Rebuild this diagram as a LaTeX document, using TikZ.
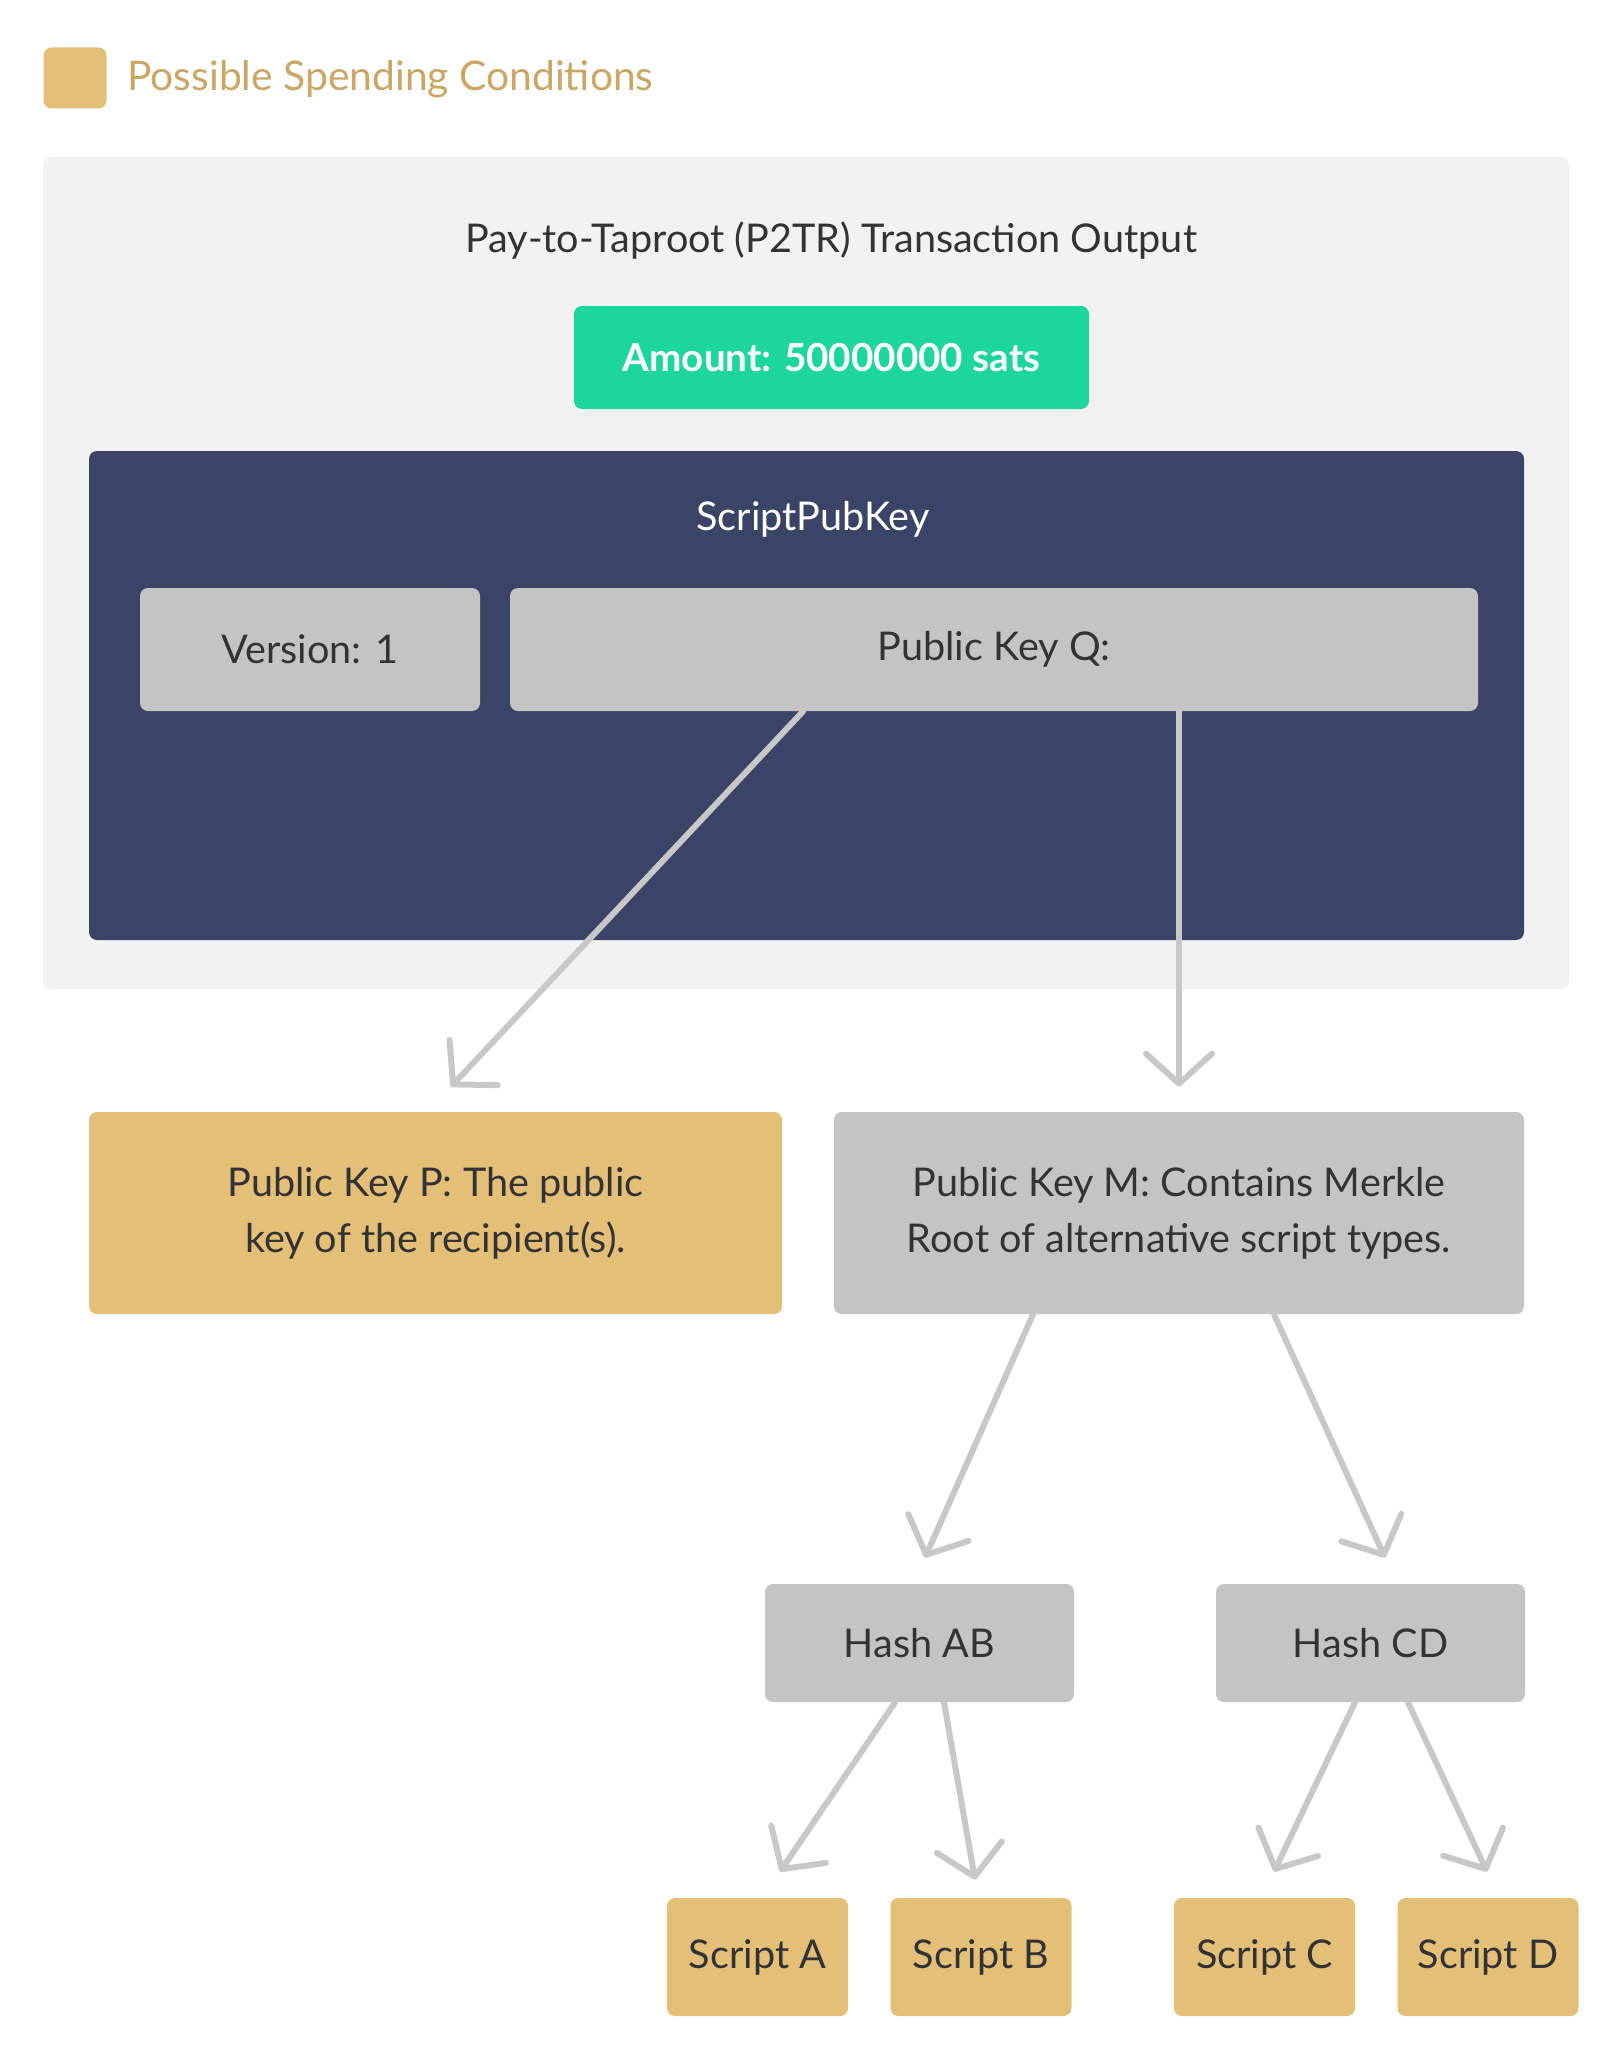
\documentclass[tikz,border=0pt]{standalone}
\usepackage{fontspec}
\setmainfont{Lato}
\usetikzlibrary{arrows.meta}
\definecolor{gold}{HTML}{E3BF78}
\definecolor{goldtext}{HTML}{C9A764}
\definecolor{greenbox}{HTML}{1DD69B}
\definecolor{navy}{HTML}{3A4466}
\definecolor{graybox}{HTML}{C4C4C4}
\definecolor{panel}{HTML}{F2F2F2}
\definecolor{txt}{HTML}{333333}
\definecolor{arrowgray}{HTML}{C8C8C8}
\tikzset{
  base/.style={rounded corners=4pt, inner sep=0pt, align=center, font=\fontsize{19.8}{28}\selectfont},
  graynode/.style={base, fill=graybox, text=txt},
  goldnode/.style={base, fill=gold, text=txt},
  arr/.style={draw=arrowgray, line width=3pt, line cap=round,
    -{Straight Barb[length=15pt,width=33pt,line width=3pt,round]}},
}
\begin{document}
\begin{tikzpicture}[x=0.5pt,y=-0.5pt]
\useasboundingbox[fill=white] (0,0) rectangle (1600,2049);
% legend
\node[base, fill=gold, minimum width=31.5pt, minimum height=30.5pt] (leg) at (75,78) {};
\node[anchor=west, text=goldtext, font=\fontsize{20.4}{24}\selectfont, inner sep=0pt] (legt) at (127,79) {Possible Spending Conditions};
% outer panel
\node[base, fill=panel, minimum width=763pt, minimum height=416pt] (outer) at (806,573) {};
\node[text=txt, font=\fontsize{19.8}{24}\selectfont, inner sep=0pt] (title) at (831,241) {Pay-to-Taproot (P2TR) Transaction Output};
\node[base, fill=greenbox, text=white, font=\fontsize{19.3}{24}\selectfont\bfseries, minimum width=257.5pt, minimum height=51.5pt] (amount) at (831.5,357.5) {Amount: 50000000 sats};
% scriptpubkey
\node[base, fill=navy, minimum width=717.5pt, minimum height=244.5pt] (spk) at (806.5,695.5) {};
\node[text=white, font=\fontsize{19.8}{24}\selectfont, inner sep=0pt] (spkt) at (813,519) {ScriptPubKey};
\node[graynode, minimum width=170pt, minimum height=61.5pt] (ver) at (310,649.5) {Version: 1};
\node[graynode, minimum width=484pt, minimum height=61.5pt] (pkq) at (994,649.5) {Public Key Q:};
% second level
\node[goldnode, minimum width=346.5pt, minimum height=101pt] (pkp) at (435.5,1213) {Public Key P: The public\\key of the recipient(s).};
\node[graynode, minimum width=345pt, minimum height=101pt] (pkm) at (1179,1213) {Public Key M: Contains Merkle\\Root of alternative script types.};
% hashes
\node[graynode, minimum width=154.5pt, minimum height=59pt] (hab) at (919.5,1643) {Hash AB};
\node[graynode, minimum width=154.5pt, minimum height=59pt] (hcd) at (1370.5,1643) {Hash CD};
% scripts
\node[goldnode, minimum width=90.5pt, minimum height=59pt] (sa) at (757.5,1957) {Script A};
\node[goldnode, minimum width=90.5pt, minimum height=59pt] (sb) at (981,1957) {Script B};
\node[goldnode, minimum width=90.5pt, minimum height=59pt] (sc) at (1264.5,1957) {Script C};
\node[goldnode, minimum width=90.5pt, minimum height=59pt] (sd) at (1488,1957) {Script D};
% arrows
\draw[arr] ([xshift=-95.5pt]pkq.south) -- ([xshift=7.75pt,yshift=12.5pt]pkp.north);
\draw[arr] ([xshift=92.5pt]pkq.south) -- ([yshift=12.5pt]pkm.north);
\draw[arr] ([xshift=-73pt]pkm.south) -- ([xshift=2.75pt,yshift=13pt]hab.north);
\draw[arr] ([xshift=47.5pt]pkm.south) -- ([xshift=7.25pt,yshift=13pt]hcd.north);
\draw[arr] ([xshift=-12.25pt]hab.south) -- ([xshift=11.25pt,yshift=13pt]sa.north);
\draw[arr] ([xshift=12.25pt]hab.south) -- ([xshift=-3pt,yshift=9pt]sb.north);
\draw[arr] ([xshift=-7.75pt]hcd.south) -- ([xshift=4.75pt,yshift=13pt]sc.north);
\draw[arr] ([xshift=18.75pt]hcd.south) -- ([xshift=-0.5pt,yshift=13pt]sd.north);
\end{tikzpicture}
\end{document}
